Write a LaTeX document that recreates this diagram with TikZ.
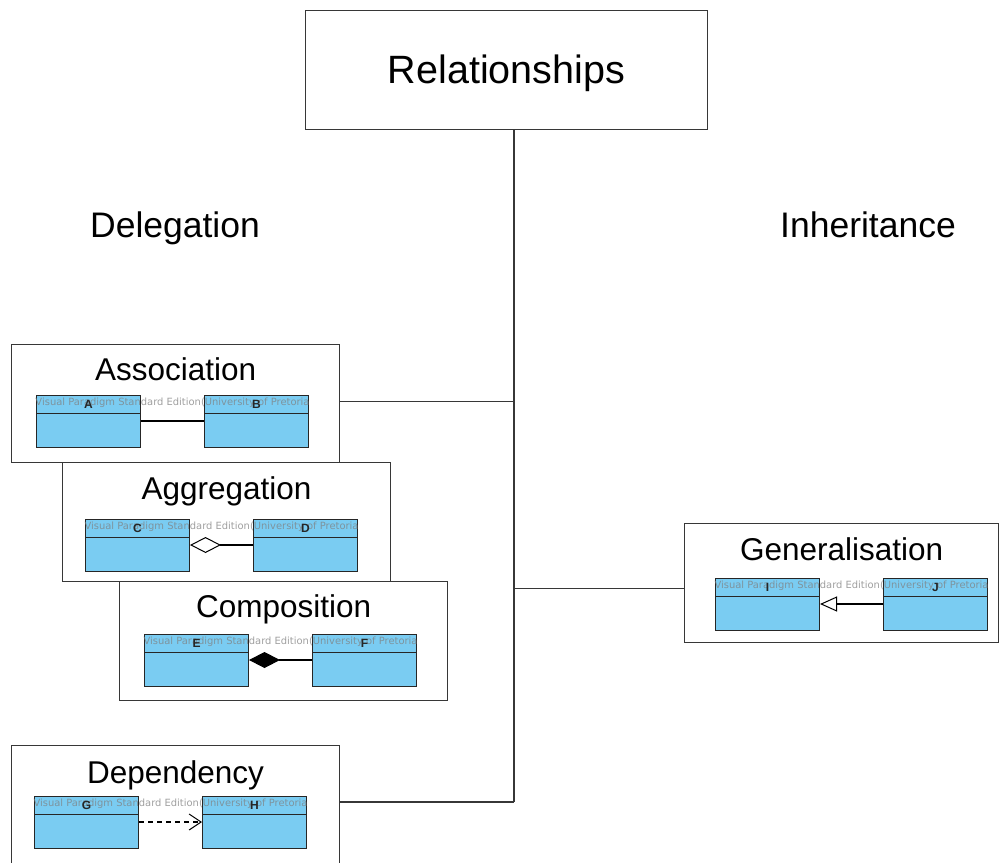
\documentclass[tikz,border=0pt]{standalone}
\usepackage{fontspec}
\setmainfont{Liberation Sans}
\newfontfamily\wmfont{DejaVu Sans}
\usetikzlibrary{arrows.meta,calc}
\definecolor{clsblue}{RGB}{122,204,242}
\definecolor{frame}{RGB}{55,55,55}
\tikzset{
  box/.style={draw=frame, line width=1.1pt, fill=white, rectangle, inner sep=0pt, anchor=north west},
  cls/.style={draw=black!85, line width=1pt, fill=clsblue, rectangle, inner sep=0pt, minimum width=104pt, minimum height=52pt, anchor=north west},
  clsline/.style={draw=black!85, line width=1pt},
  clsname/.style={font=\bfseries\fontsize{12}{12}\selectfont, text=black!85, inner sep=0pt},
  title/.style={font=\fontsize{31.5}{32}\selectfont, inner sep=0pt},
  head/.style={font=\fontsize{35.5}{36}\selectfont, inner sep=0pt},
  wmark/.style={text=gray, opacity=0.75, inner sep=0pt},
  conn/.style={draw=frame, line width=1.1pt},
  rel/.style={draw=black, line width=1.1pt}
}
\newcommand{\umlcls}[4]{%
  \node[cls] (#1) at (#2,#3) {};
  \draw[clsline] ([yshift=-18pt]#1.north west) -- ([yshift=-18pt]#1.north east);
}
\newcommand{\umlname}[2]{%
  \node[clsname] (#1-lbl) at ([yshift=-9pt]#1.north) {#2};
}
\newcommand{\wmtext}[3]{%
  \node[wmark] (#1) at ($([yshift=-8pt]#2.north west)!0.5!([yshift=-8pt]#3.north east)$) {\resizebox{274pt}{!}{\wmfont Visual Paradigm Standard Edition(University of Pretoria}};
}
\begin{document}
\begin{tikzpicture}[x=1pt,y=-1pt]
\clip (0,0) rectangle (1000,862);
\fill[white] (0,0) rectangle (1000,862);

% top node
\node[box, minimum width=402pt, minimum height=119pt] (relbox) at (305,10) {};
\node[font=\fontsize{39.5}{40}\selectfont, inner sep=0pt] (reltxt) at ([yshift=-3pt]relbox.center) {Relationships};

\node[head] (deleg) at (175,228) {Delegation};
\node[head] (inher) at (868,225) {Inheritance};

% trunk
\coordinate (tb) at (514,802);
\draw[conn] (relbox.south -| tb) -- (tb);

% containers
\node[box, minimum width=328pt, minimum height=118pt] (assoc) at (11,344) {};
\node[box, minimum width=328pt, minimum height=119pt] (aggr) at (62,462) {};
\node[box, minimum width=328pt, minimum height=119pt] (comp) at (119,581) {};
\node[box, minimum width=314pt, minimum height=119pt] (gen) at (684,523) {};
\node[box, minimum width=328pt, minimum height=135pt] (dep) at (11,745) {};

\node[title] (assoc-t) at ([yshift=-25pt]assoc.north) {Association};
\node[title] (aggr-t) at ([yshift=-29pt]aggr.north) {Aggregation};
\node[title] (comp-t) at ([yshift=-28pt]comp.north) {Composition};
\node[title] (gen-t) at ([yshift=-26pt]gen.north) {Generalisation};
\node[title] (dep-t) at ([yshift=-30pt]dep.north) {Dependency};

% branches
\draw[conn] ([yshift=2pt]assoc.east) -- ([yshift=2pt]assoc.east -| tb);
\draw[conn] (dep.east |- tb) -- (tb);
\draw[conn] ([yshift=-5pt]gen.west -| tb) -- ([yshift=-5pt]gen.west);

% classes
\umlcls{A}{36}{395}{A}
\umlcls{B}{204}{395}{B}
\umlcls{C}{85}{519}{C}
\umlcls{D}{253}{519}{D}
\umlcls{E}{144}{634}{E}
\umlcls{F}{312}{634}{F}
\umlcls{I}{715}{578}{I}
\umlcls{J}{883}{578}{J}
\umlcls{G}{34}{796}{G}
\umlcls{H}{202}{796}{H}

\wmtext{wmAB}{A}{B}
\wmtext{wmCD}{C}{D}
\wmtext{wmEF}{E}{F}
\wmtext{wmIJ}{I}{J}
\wmtext{wmGH}{G}{H}

\umlname{A}{A}\umlname{B}{B}\umlname{C}{C}\umlname{D}{D}\umlname{E}{E}
\umlname{F}{F}\umlname{I}{I}\umlname{J}{J}\umlname{G}{G}\umlname{H}{H}

% relations
\draw[rel] ([yshift=-26pt]A.north east) -- ([yshift=-26pt]B.north west);
\draw[rel, -{Diamond[open, length=31pt, width=16pt, line width=1pt]}] ([yshift=-26pt]D.north west) -- ([yshift=-26pt]C.north east);
\draw[rel, -{Diamond[length=31pt, width=16pt]}] ([yshift=-26pt]F.north west) -- ([yshift=-26pt]E.north east);
\draw[rel, -{Triangle[open, length=17pt, width=15pt, line width=1pt]}] ([yshift=-26pt]J.north west) -- ([yshift=-26pt]I.north east);
\draw[rel, dash pattern=on 5pt off 4pt, -{Straight Barb[length=12pt, width=16pt, line width=1pt]}] ([yshift=-26pt]G.north east) -- ([yshift=-26pt]H.north west);
\end{tikzpicture}
\end{document}
